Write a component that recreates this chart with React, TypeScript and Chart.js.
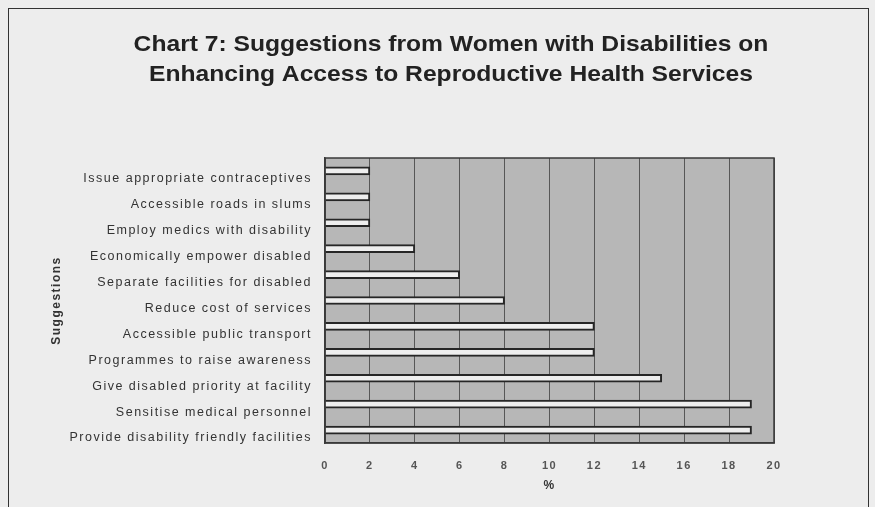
import React, { useEffect, useRef } from "react";
import { Chart, registerables } from "chart.js";

Chart.register(...registerables);

const titleLines = [
  "Chart 7: Suggestions from Women with Disabilities on",
  "Enhancing Access to Reproductive Health Services",
];

const categories = [
  "Issue appropriate contraceptives",
  "Accessible roads in slums",
  "Employ medics with disability",
  "Economically empower disabled",
  "Separate facilities for disabled",
  "Reduce cost of services",
  "Accessible public transport",
  "Programmes to raise awareness",
  "Give disabled priority at facility",
  "Sensitise medical personnel",
  "Provide disability friendly facilities",
];

const percentValues = [2, 2, 2, 4, 6, 8, 12, 12, 15, 19, 19];

const xTickMin = 0;
const xTickMax = 20;
const xTickStep = 2;

const FONT = '"Liberation Sans", Arial, Helvetica, sans-serif';

const plotFrame = {
  id: "plotFrame",
  beforeDraw(chart: any) {
    const { ctx, chartArea } = chart;
    ctx.save();
    ctx.fillStyle = "#b7b7b7";
    ctx.fillRect(chartArea.left, chartArea.top, chartArea.right - chartArea.left, chartArea.bottom - chartArea.top);
    ctx.restore();
    ctx.letterSpacing = "1.5px";
  },
  afterDraw(chart: any) {
    const { ctx, chartArea } = chart;
    ctx.letterSpacing = "0px";
    ctx.save();
    ctx.strokeStyle = "#3a3a3a";
    ctx.lineWidth = 1.5;
    ctx.strokeRect(chartArea.left, chartArea.top, chartArea.right - chartArea.left, chartArea.bottom - chartArea.top);
    ctx.restore();
  },
};

const chartTitle = {
  id: "chartTitle",
  afterDraw(chart: any) {
    const { ctx } = chart;
    const stretch = 1.12;
    ctx.save();
    ctx.fillStyle = "#222";
    ctx.font = `bold 22px ${FONT}`;
    ctx.textAlign = "center";
    ctx.textBaseline = "alphabetic";
    ctx.scale(stretch, 1);
    titleLines.forEach((line, i) => {
      ctx.fillText(line, 451 / stretch, 51 + i * 30);
    });
    ctx.restore();
  },
};

export default function App() {
  const ref = useRef<HTMLCanvasElement>(null);

  useEffect(() => {
    if (!ref.current) return;
    const chart = new Chart(ref.current, {
      type: "bar",
      data: {
        labels: categories,
        datasets: [
          {
            label: "%",
            data: percentValues,
            backgroundColor: "#eeeeee",
            borderColor: "#262626",
            borderWidth: 2,
            barThickness: 8,
          },
        ],
      },
      options: {
        indexAxis: "y",
        animation: false,
        responsive: false,
        layout: { padding: { left: 45, right: 101, top: 158, bottom: 8 } },
        plugins: {
          legend: { display: false },
          tooltip: { enabled: false },
          title: { display: false },
        },
        scales: {
          x: {
            min: xTickMin,
            max: xTickMax,
            ticks: {
              stepSize: xTickStep,
              color: "#555",
              font: { family: FONT, size: 11, weight: "bold" },
              padding: 16,
            },
            grid: { color: "#575757", lineWidth: 1, drawTicks: false },
            border: { display: true, color: "#3a3a3a", width: 1.5 },
            title: {
              display: true,
              text: "%",
              color: "#333",
              font: { family: FONT, size: 12, weight: "bold" },
              padding: { top: 4, bottom: 6 },
            },
            afterFit(scale: any) {
              scale.height = 56;
            },
          },
          y: {
            ticks: {
              color: "#333",
              font: { family: FONT, size: 12.5 },
              padding: 13,
              labelOffset: 8,
            },
            grid: { display: false, drawTicks: false },
            border: { display: true, color: "#3a3a3a", width: 1.5 },
            title: {
              display: true,
              text: "Suggestions",
              color: "#333",
              font: { family: FONT, size: 12, weight: "bold" },
              padding: { top: 4, bottom: 4 },
            },
            afterFit(scale: any) {
              scale.width = 280;
            },
          },
        },
      },
      plugins: [plotFrame, chartTitle],
    });
    return () => chart.destroy();
  }, []);

  return (
    <div
      style={{
        position: "fixed",
        left: 0,
        top: 0,
        width: 875,
        height: 507,
        background: "#ededed",
        overflow: "hidden",
      }}
    >
      <div
        style={{
          position: "absolute",
          left: 8,
          top: 8,
          width: 861,
          height: 520,
          border: "1.5px solid #333",
          boxSizing: "border-box",
        }}
      />
      <canvas ref={ref} width={875} height={507} style={{ position: "absolute", left: 0, top: 0, width: 875, height: 507 }} />
    </div>
  );
}
